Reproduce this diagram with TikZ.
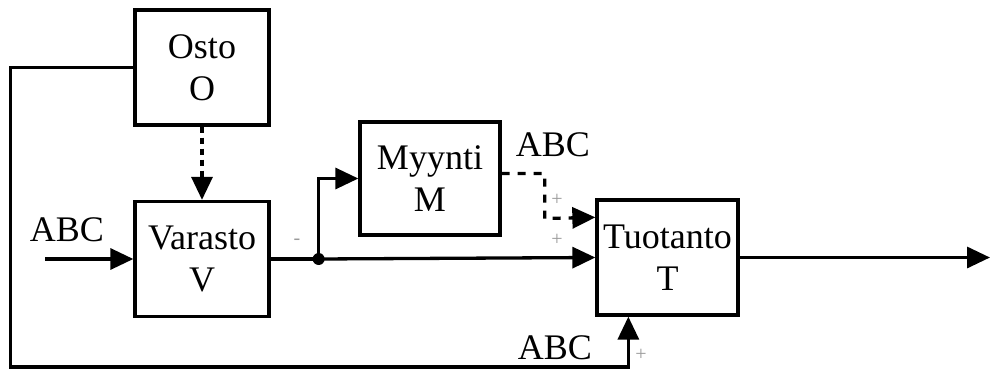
\documentclass[tikz,border=0pt]{standalone}
\usepackage{fontspec}
\setmainfont{Liberation Serif}
\usetikzlibrary{arrows.meta,positioning,calc}
\definecolor{signGray}{HTML}{9A9A9A}

\begin{document}
\begin{tikzpicture}[
  x=1pt, y=-1pt,
  font=\fontsize{36}{42}\selectfont,
  box/.style={
    draw, align=center, inner sep=0pt, line width=3.3pt,
    minimum width=134pt, minimum height=115pt},
  ar/.style={-{Triangle[length=23pt,width=21pt]}, line width=3.3pt},
  dotar/.style={ar, dash pattern=on 6pt off 5pt},
  dashar/.style={ar, dash pattern=on 8pt off 8pt},
  lbl/.style={inner sep=1pt},
  sgn/.style={font=\fontsize{20}{20}\selectfont, text=signGray, inner sep=0pt},
]
\useasboundingbox (0,0) rectangle (991,370);

% ---------------- blocks ----------------
\node[box] (osto) at (202,67.5) {Osto\\O};
\node[box] (varasto) at (202,259) {Varasto\\V};
\node[box, minimum width=140pt, minimum height=113pt] (myynti) at (430,178.5) {Myynti\\M};
\node[box, minimum width=141pt] (tuotanto) at (667.5,257.5) {Tuotanto\\T};

% ---------------- free ends ----------------
\coordinate (in) at (45,259);
\coordinate (out) at (990,257.5);
\coordinate[right=48pt of varasto.east] (split);

% ---------------- arrows ----------------
\draw[ar] (in) -- (varasto.west);
\draw[dotar] (osto.south) -- (varasto.north);
\draw[line width=3.3pt] (varasto.east) -- (split);
\fill (split) circle (6pt);
\draw[ar] (split) -- (tuotanto.west);
\draw[ar] (split) |- (myynti.west);
\draw[dashar] ($(myynti.east)+(0,-5)$) -| ++(43,45) -- ($(tuotanto.north west)+(0,19)$);
\draw[ar] (tuotanto.east) -- (out);

% feedback from purchasing
\draw[ar] (osto.west) -- ++(-123,0) |- (12,367) -| ($(tuotanto.south west)+(33,0)$);

% ---------------- labels ----------------
\node[lbl] at (67,230) {ABC};
\node[lbl] at (553,145) {ABC};
\node[lbl] at (555,348) {ABC};
\node[sgn] at (297,242) {-};
\node[sgn] at (557,200) {+};
\node[sgn] at (557,240) {+};
\node[sgn] at (641,355) {+};

\end{tikzpicture}
\end{document}
